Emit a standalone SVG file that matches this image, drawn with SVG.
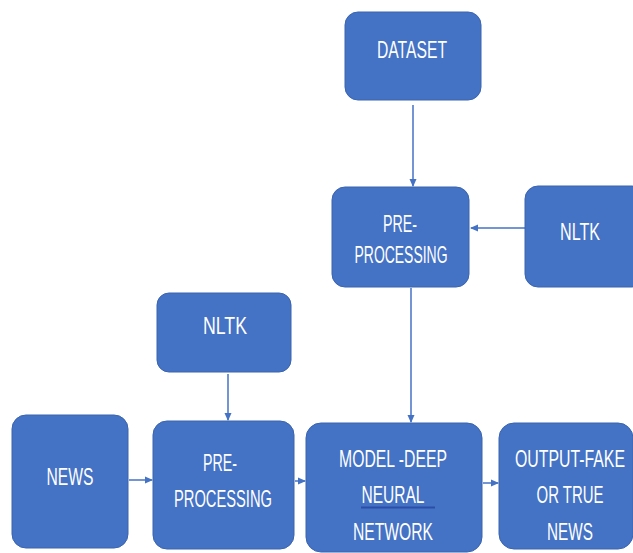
<svg xmlns="http://www.w3.org/2000/svg" width="633" height="553" viewBox="0 0 633 553">
<style>
.box{fill:#4472C4;stroke:#3A64AE;stroke-width:1}
.t{fill:#ffffff;font-family:"Liberation Sans",Arial,sans-serif;font-size:24px;text-anchor:middle}
.ts{fill:#ffffff;font-family:"Liberation Sans",Arial,sans-serif;font-size:17px;text-anchor:middle}
.c{stroke:#4472C4;stroke-width:1.5;fill:none;marker-end:url(#ah)}
</style>
<defs>
<marker id="ah" markerWidth="8" markerHeight="8" refX="7" refY="4" orient="auto" markerUnits="userSpaceOnUse">
<path d="M0,0.5 L8,4 L0,7.5 Z" fill="#4472C4"/>
</marker>
</defs>
<rect width="633" height="553" fill="#ffffff"/>
<g id="connectors">
<line class="c" x1="413" y1="105" x2="413" y2="186"/>
<line class="c" x1="525" y1="228" x2="471" y2="228"/>
<line class="c" x1="411" y1="288" x2="411" y2="422"/>
<line class="c" x1="228" y1="374" x2="228" y2="420"/>
<line class="c" x1="129" y1="480" x2="152" y2="480"/>
<line class="c" x1="295" y1="481" x2="305" y2="481"/>
<line class="c" x1="483" y1="483" x2="498" y2="483"/>
</g>
<g id="dataset">
<rect class="box" x="345" y="12" width="136" height="88" rx="13"/>
<text class="t" x="412" y="58" textLength="70" lengthAdjust="spacingAndGlyphs">DATASET</text>
</g>
<g id="preprocessing-top">
<rect class="box" x="332" y="187" width="137" height="100" rx="13"/>
<text class="t" x="400" y="232" textLength="34" lengthAdjust="spacingAndGlyphs">PRE-</text>
<text class="t" x="401" y="263" textLength="93" lengthAdjust="spacingAndGlyphs">PROCESSING</text>
</g>
<g id="nltk-right">
<rect class="box" x="525" y="186" width="120" height="101" rx="13"/>
<text class="t" x="580" y="240" textLength="40" lengthAdjust="spacingAndGlyphs">NLTK</text>
</g>
<g id="nltk-left">
<rect class="box" x="157" y="293" width="134" height="79" rx="12"/>
<text class="t" x="225" y="334" textLength="44" lengthAdjust="spacingAndGlyphs">NLTK</text>
</g>
<g id="news">
<rect class="box" x="12" y="415" width="116" height="133" rx="14"/>
<text class="t" x="70" y="485" textLength="47" lengthAdjust="spacingAndGlyphs">NEWS</text>
</g>
<g id="preprocessing-bottom">
<rect class="box" x="153" y="421" width="141" height="128" rx="14"/>
<text class="t" x="220" y="471" textLength="34" lengthAdjust="spacingAndGlyphs">PRE-</text>
<text class="t" x="223" y="507" textLength="98" lengthAdjust="spacingAndGlyphs">PROCESSING</text>
</g>
<g id="model">
<rect class="box" x="306" y="423" width="176" height="129" rx="15"/>
<text class="t" x="393" y="467" textLength="108" lengthAdjust="spacingAndGlyphs">MODEL -DEEP</text>
<text class="t" x="393" y="503" textLength="63" lengthAdjust="spacingAndGlyphs">NEURAL</text>
<line x1="361" y1="507.5" x2="435" y2="507.5" stroke="#2B4FA8" stroke-width="2"/>
<text class="t" x="393" y="540" textLength="80" lengthAdjust="spacingAndGlyphs">NETWORK</text>
</g>
<g id="output">
<rect class="box" x="499" y="423" width="134" height="126" rx="15"/>
<text class="ts" transform="translate(570,467) scale(1,1.4)" x="0" y="0" textLength="110" lengthAdjust="spacingAndGlyphs">OUTPUT-FAKE</text>
<text class="ts" transform="translate(570,503) scale(1,1.4)" x="0" y="0" textLength="67" lengthAdjust="spacingAndGlyphs">OR TRUE</text>
<text class="ts" transform="translate(570,540) scale(1,1.4)" x="0" y="0" textLength="46" lengthAdjust="spacingAndGlyphs">NEWS</text>
</g>
</svg>
